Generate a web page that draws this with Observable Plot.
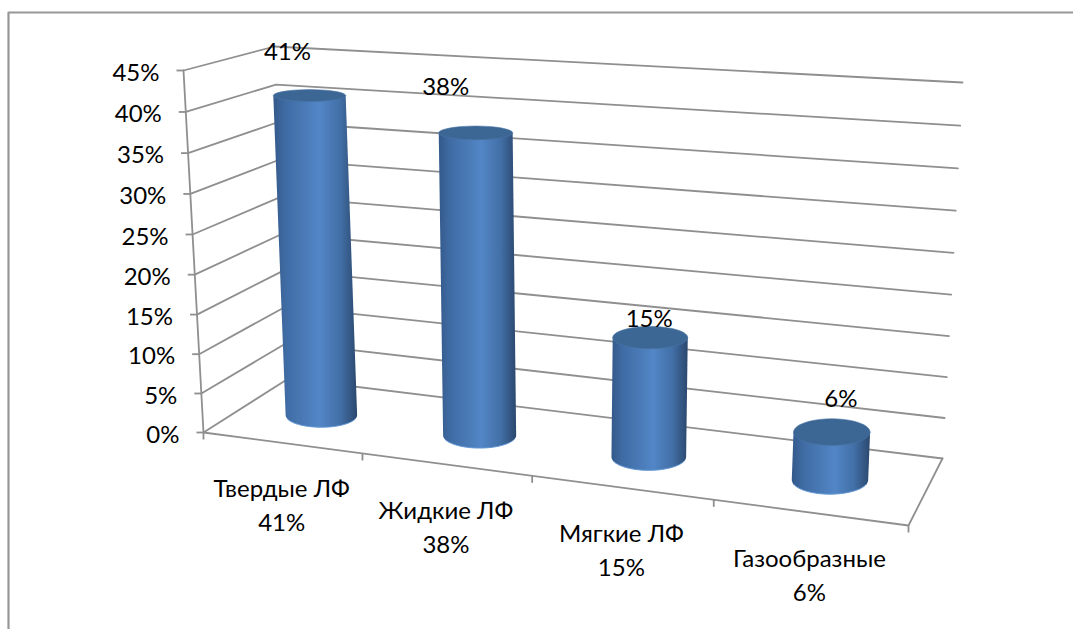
<!DOCTYPE html>
<html lang="ru">
<head>
<meta charset="utf-8">
<title>Лекарственные формы</title>
<style>
  html, body { margin: 0; padding: 0; background: #fff; }
  svg { display: block; }
</style>
<script src="https://cdn.jsdelivr.net/npm/d3@7"></script>
<script src="https://cdn.jsdelivr.net/npm/@observablehq/plot@0.6"></script>
</head>
<body>
<script>
// Chart data
const categories = ["Твердые ЛФ", "Жидкие ЛФ", "Мягкие ЛФ", "Газообразные"];
const shares = [41, 38, 15, 6];
const yTicks = [0, 5, 10, 15, 20, 25, 30, 35, 40, 45];
const yMax = 45;

// Layout of the 3D box: eight corners on the page, [bottom, top] per vertical edge
const box = {
  frontLeft: [[203, 432], [183, 70]],
  frontRight: [[908, 525], [926, 164]],
  backLeft: [[288, 378], [274, 46]],
  backRight: [[942, 458], [962, 82]]
};
const widthWarp = 1.145;   // foreshortening along the category axis
const heightWarp = 1.035;  // foreshortening along the value axis
const capBulge = 0.07;     // extra cylinder height towards the middle of the row
const valueLabelShift = [[-22, -43], [-30, -46], [-1, -18], [9, -33]];

const warp = (t, c) => t / (t + c * (1 - t));
const mix = (a, b, t) => [a[0] + (b[0] - a[0]) * t, a[1] + (b[1] - a[1]) * t];

// Maps (category position, value, depth) to page coordinates
function project(u, value, w) {
  const uu = warp(u, widthWarp);
  const vv = warp(value / yMax, heightWarp);
  const edge = (e) => mix(e[0], e[1], vv);
  const front = mix(edge(box.frontLeft), edge(box.frontRight), uu);
  const back = mix(edge(box.backLeft), edge(box.backRight), uu);
  return mix(front, back, w);
}
const slot = (i) => (i + 0.5) / categories.length;

// Ellipse radii of a cylinder cap at a given page position
const radiusX = ([x, y]) => 34.4 + 0.005 * x - 0.0015 * (y - 250);
const radiusY = ([x, y]) => radiusX([x, y]) * (0.112 + 0.00055 * y);

const arc = ([cx, cy], from, to, n = 40) => d3.range(n + 1).map((k) => {
  const t = from + (to - from) * k / n;
  return [cx + radiusX([cx, cy]) * Math.cos(t), cy + radiusY([cx, cy]) * Math.sin(t)];
});

const bars = categories.map((name, i) => {
  const bottom = project(slot(i), 0, 0.5);
  const uu = warp(slot(i), widthWarp);
  const top = mix(bottom, project(slot(i), shares[i], 0.5), 1 + capBulge * uu * (1 - uu));
  return {name, value: shares[i], top, bottom};
});

const tag = (rows, id) => rows.map(([x, y]) => ({x, y, id}));
const bodies = bars.flatMap((b, i) => tag([...arc(b.top, Math.PI, Math.PI), ...arc(b.bottom, Math.PI, 0), ...arc(b.top, 0, 0)], i));
const caps = bars.flatMap((b, i) => tag(arc(b.top, 0, 2 * Math.PI), i));
const rims = bars.flatMap((b, i) => tag(arc(b.bottom, Math.PI * 0.9, Math.PI * 0.1), i));

// Wall grid: front-left edge to back corner, then along the back wall
const grid = yTicks.flatMap((v) => tag([project(0, v, 0), project(0, v, 1), project(1, v, 1)], v));
const floorEdges = [
  ...tag([project(0, 0, 0), project(1, 0, 0), project(1, 0, 1)], "floor"),
  ...tag([project(0, 0, 0), project(0, yMax, 0)], "axis")
];
const xTicks = d3.range(categories.length + 1).map((i) => i / categories.length);
const frame = tag([[1073, 12], [8, 12], [8, 629]], "frame");

const lineColor = "#8f8f8f";
const font = "Lato, 'Noto Sans', sans-serif";
const labelSize = 24;

// Shading across the cylinder surface
const defs = () => {
  const ns = "http://www.w3.org/2000/svg";
  const d = document.createElementNS(ns, "defs");
  const g = document.createElementNS(ns, "linearGradient");
  g.setAttribute("id", "cylinderShade");
  [[0, "#34598a"], [0.14, "#3f6ba3"], [0.55, "#5286c6"], [0.8, "#426fa6"], [1, "#2b486e"]].forEach(([o, c]) => {
    const s = document.createElementNS(ns, "stop");
    s.setAttribute("offset", o);
    s.setAttribute("stop-color", c);
    g.appendChild(s);
  });
  d.appendChild(g);
  return d;
};

const chart = Plot.plot({
  width: 1073,
  height: 629,
  margin: 0,
  x: {domain: [0, 1073], range: [0, 1073], axis: null},
  y: {domain: [0, 629], range: [0, 629], axis: null},
  style: {background: "#fff", fontFamily: font},
  marks: [
    defs,
    Plot.line(frame, {x: "x", y: "y", z: "id", stroke: "#979797", strokeWidth: 2.2}),
    Plot.line(grid, {x: "x", y: "y", z: "id", stroke: lineColor, strokeWidth: 1.8}),
    Plot.line(floorEdges, {x: "x", y: "y", z: "id", stroke: lineColor, strokeWidth: 1.8}),
    // Value-axis tick marks and labels
    Plot.link(yTicks, {
      x1: (v) => project(0, v, 0)[0] - 7, y1: (v) => project(0, v, 0)[1],
      x2: (v) => project(0, v, 0)[0], y2: (v) => project(0, v, 0)[1],
      stroke: lineColor, strokeWidth: 1.8
    }),
    Plot.text(yTicks, {
      x: (v) => project(0, v, 0)[0], y: (v) => project(0, v, 0)[1] + 2.5,
      text: (v) => `${v}%`, textAnchor: "end", dx: -24, fontSize: labelSize, fill: "#000"
    }),
    // Category tick marks and labels
    Plot.link(xTicks, {
      x1: (u) => project(u, 0, 0)[0], y1: (u) => project(u, 0, 0)[1],
      x2: (u) => project(u, 0, 0)[0], y2: (u) => project(u, 0, 0)[1] + 7,
      stroke: lineColor, strokeWidth: 1.8
    }),
    Plot.text(bars, {
      x: (b, i) => project(slot(i), 0, 0)[0], y: (b, i) => project(slot(i), 0, 0)[1],
      text: (b) => `${b.name}\n${b.value}%`, lineAnchor: "top", lineHeight: 1.42, dy: 30,
      fontSize: labelSize, fill: "#000"
    }),
    // Cylinders
    Plot.line(bodies, {x: "x", y: "y", z: "id", fill: "url(#cylinderShade)", stroke: "none"}),
    Plot.line(rims, {x: "x", y: "y", z: "id", stroke: "#6398d6", strokeWidth: 1}),
    Plot.line(caps, {x: "x", y: "y", z: "id", fill: "#3c6693", stroke: "#4a76a8", strokeWidth: 0.6}),
    // Value labels above the cylinders
    Plot.text(bars, {
      x: (b, i) => b.top[0] + valueLabelShift[i][0], y: (b, i) => b.top[1] + valueLabelShift[i][1],
      text: (b) => `${b.value}%`, fontSize: labelSize, fill: "#000"
    })
  ]
});
document.body.appendChild(chart);
</script>
</body>
</html>
